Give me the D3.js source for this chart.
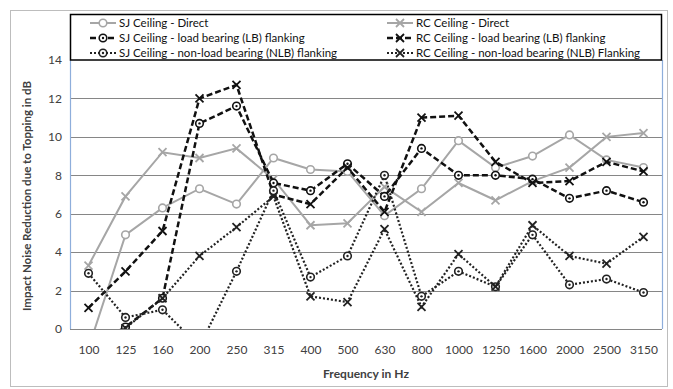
<!DOCTYPE html>
<html>
<head>
<meta charset="utf-8">
<script src="https://cdn.jsdelivr.net/npm/d3@7"></script>
<style>
  body { margin: 0; background: #fff; }
  text { font-family: Lato, "Open Sans", sans-serif; }
</style>
</head>
<body>
<div id="chart"></div>
<script>
// frequencies (Hz)
const freqs = ["100", "125", "160", "200", "250", "315", "400", "500", "630", "800", "1000", "1250", "1600", "2000", "2500", "3150"];
const yTicks = [0, 2, 4, 6, 8, 10, 12, 14];

// impact noise reduction in dB
const sjDirect = [-1.0, 4.9, 6.3, 7.3, 6.5, 8.9, 8.3, 8.2, 5.9, 7.3, 9.8, 8.4, 9.0, 10.1, 8.8, 8.4];
const rcDirect = [3.3, 6.9, 9.2, 8.9, 9.4, 7.8, 5.4, 5.5, 7.4, 6.1, 7.6, 6.7, 7.7, 8.4, 10.0, 10.2];
const sjLB = [-1.0, 0.1, 1.6, 10.7, 11.6, 7.6, 7.2, 8.6, 6.9, 9.4, 8.0, 8.0, 7.8, 6.8, 7.2, 6.6];
const rcLB = [1.1, 3.0, 5.1, 12.0, 12.7, 7.0, 6.5, 8.4, 6.1, 11.0, 11.1, 8.7, 7.6, 7.7, 8.7, 8.2];
const sjNLB = [2.9, 0.6, 1.0, -0.9, 3.0, 7.2, 2.7, 3.8, 8.0, 1.7, 3.0, 2.2, 4.9, 2.3, 2.6, 1.9];
const rcNLB = [-1.0, 0.05, 1.6, 3.8, 5.3, 6.9, 1.7, 1.4, 5.2, 1.15, 3.9, 2.2, 5.4, 3.8, 3.4, 4.8];

const series = [
  {name: "SJ Ceiling - Direct", values: sjDirect, color: "#a6a6a6", dash: null, width: 2, mark: "circle", col: 0, row: 0},
  {name: "RC Ceiling - Direct", values: rcDirect, color: "#a6a6a6", dash: null, width: 2, mark: "x", col: 1, row: 0},
  {name: "SJ Ceiling - load bearing (LB) flanking", values: sjLB, color: "#111", dash: "6,3", width: 2.5, mark: "dotcircle", col: 0, row: 1},
  {name: "RC Ceiling - load bearing (LB) flanking", values: rcLB, color: "#111", dash: "6,3", width: 2.5, mark: "x", col: 1, row: 1},
  {name: "SJ Ceiling - non-load bearing (NLB) flanking", values: sjNLB, color: "#222", dash: "2,2", width: 2.2, mark: "dotcircle", col: 0, row: 2},
  {name: "RC Ceiling - non-load bearing (NLB) Flanking", values: rcNLB, color: "#222", dash: "2,2", width: 2.2, mark: "x", col: 1, row: 2}
];

const W = 673, H = 389;
const svg = d3.select("#chart").append("svg").attr("width", W).attr("height", H);

// outer frame
svg.append("rect").attr("x", 10.5).attr("y", 10.5).attr("width", 657).attr("height", 376)
  .attr("fill", "#fff").attr("stroke", "#bdbdbd");

const x = d3.scalePoint().domain(freqs).range([70, 662]).padding(0.5);
const y = d3.scaleLinear().domain([0, 14]).range([329, 60]);

// grid
svg.append("g").selectAll("line").data(yTicks.slice(0, -1)).enter().append("line")
  .attr("x1", 70).attr("x2", 662)
  .attr("y1", d => Math.round(y(d)) + 0.5).attr("y2", d => Math.round(y(d)) + 0.5)
  .attr("stroke", "#868686").attr("stroke-width", 1.2);

// blue side borders of the plot
svg.append("g").selectAll("line").data([70, 662]).enter().append("line")
  .attr("x1", d => d + 0.5).attr("x2", d => d + 0.5).attr("y1", 60).attr("y2", 329)
  .attr("stroke", "#8eaedb").attr("stroke-width", 1.2);

// axes
const yAxis = svg.append("g").attr("transform", "translate(62,0)")
  .call(d3.axisLeft(y).tickValues(yTicks).tickSize(0).tickPadding(0));
const xAxis = svg.append("g").attr("transform", "translate(0,335)")
  .call(d3.axisBottom(x).tickSize(0).tickPadding(10));
[yAxis, xAxis].forEach(a => {
  a.select(".domain").remove();
  a.selectAll("text").attr("font-size", 12).attr("fill", "#404040").attr("font-family", "Lato, sans-serif");
});

svg.append("text").attr("x", 366).attr("y", 378).attr("text-anchor", "middle")
  .attr("font-size", 12).attr("font-weight", "bold").attr("fill", "#404040")
  .text("Frequency in Hz");
svg.append("text").attr("transform", "translate(31,196) rotate(-90)").attr("text-anchor", "middle")
  .attr("font-size", 11.5).attr("font-weight", "bold").attr("fill", "#404040")
  .text("Impact Noise Reduction due to Topping in dB");

// clip so values under zero disappear below the axis
svg.append("clipPath").attr("id", "plot").append("rect")
  .attr("x", 70).attr("y", 60).attr("width", 592).attr("height", 269);

function drawMark(g, kind, color, cx, cy) {
  if (kind === "x") {
    const s = 4;
    g.append("path").attr("d", `M${cx - s},${cy - s}L${cx + s},${cy + s}M${cx - s},${cy + s}L${cx + s},${cy - s}`)
      .attr("stroke", color).attr("stroke-width", 1.8).attr("fill", "none");
  } else {
    g.append("circle").attr("cx", cx).attr("cy", cy).attr("r", 3.8)
      .attr("fill", "#fff").attr("stroke", color).attr("stroke-width", 1.6);
    if (kind === "dotcircle")
      g.append("circle").attr("cx", cx).attr("cy", cy).attr("r", 1.2).attr("fill", color);
  }
}

const plot = svg.append("g").attr("clip-path", "url(#plot)");
const line = d3.line().x((d, i) => x(freqs[i])).y(d => y(d));

series.forEach(s => {
  const g = plot.append("g");
  g.append("path").datum(s.values).attr("d", line)
    .attr("fill", "none").attr("stroke", s.color).attr("stroke-width", s.width)
    .attr("stroke-dasharray", s.dash);
  s.values.forEach((v, i) => { if (v >= 0) drawMark(g, s.mark, s.color, x(freqs[i]), y(v)); });
});

// legend
const leg = svg.append("g");
leg.append("rect").attr("x", 70.5).attr("y", 14.5).attr("width", 591).attr("height", 45.5)
  .attr("fill", "#fff").attr("stroke", "#000").attr("stroke-width", 1.5);
const colX = [90, 387];
series.forEach(s => {
  const lx = colX[s.col], ly = 23 + s.row * 15;
  const g = leg.append("g");
  g.append("line").attr("x1", lx).attr("x2", lx + 26).attr("y1", ly).attr("y2", ly)
    .attr("stroke", s.color).attr("stroke-width", s.width).attr("stroke-dasharray", s.dash);
  drawMark(g, s.mark, s.color, lx + 13, ly);
  g.append("text").attr("x", lx + 29).attr("y", ly + 4).attr("font-size", 11.5).attr("fill", "#111")
    .text(s.name);
});
</script>
</body>
</html>
